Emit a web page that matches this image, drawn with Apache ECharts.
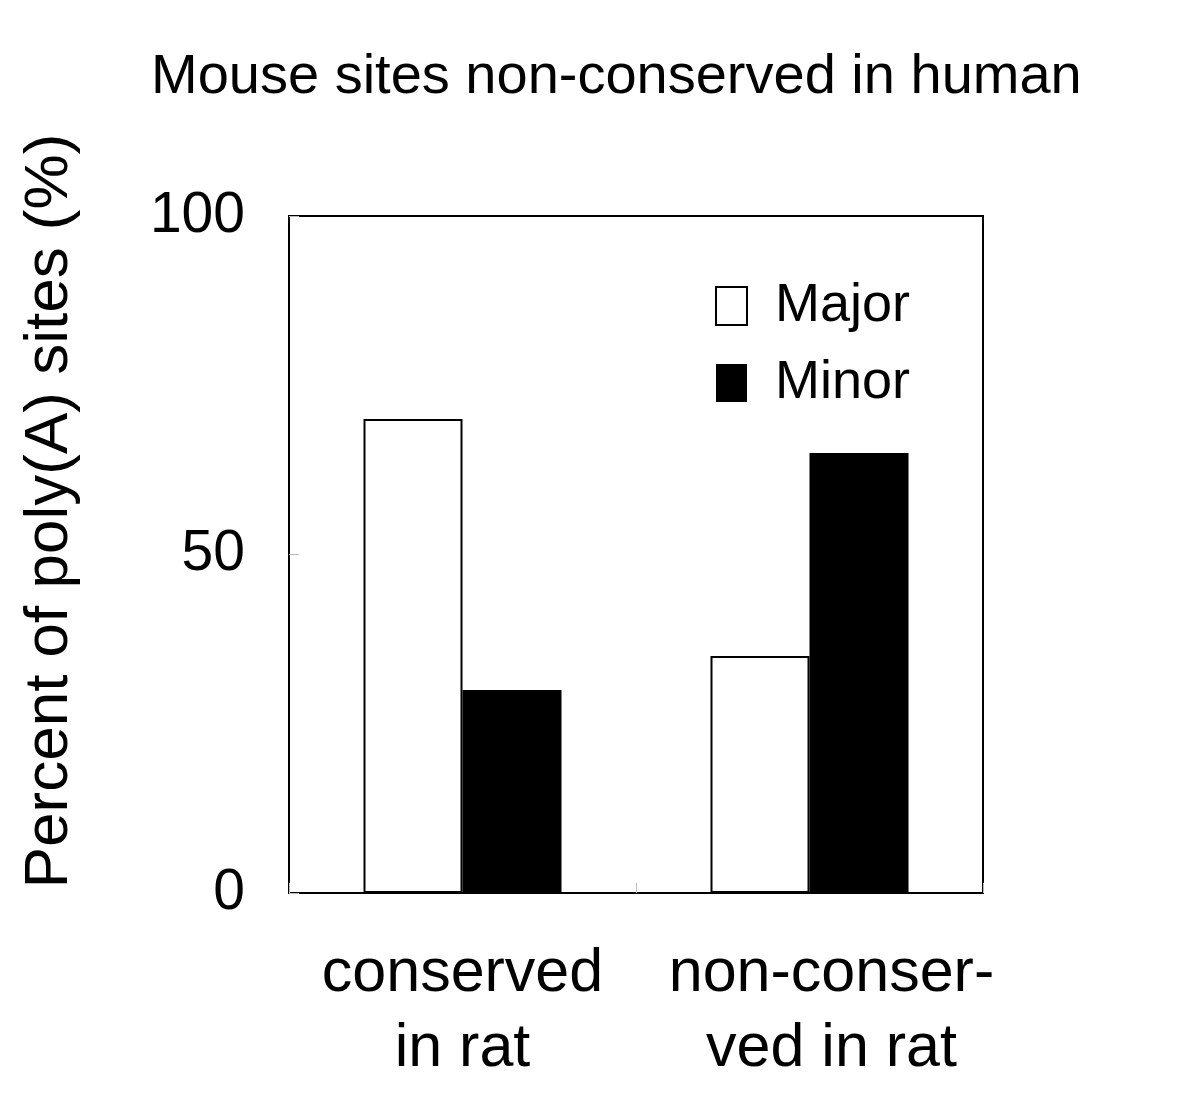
<!DOCTYPE html>
<html>
<head>
<meta charset="utf-8">
<script src="https://cdn.jsdelivr.net/npm/echarts@6/dist/echarts.min.js"></script>
<style>
  html, body { margin: 0; padding: 0; background: #fff; }
  #chart { width: 1200px; height: 1106px; }
</style>
</head>
<body>
<div id="chart"></div>
<script>
const categories = ['conserved\nin rat', 'non-conser-\nved in rat']
const majorValues = [70, 35]
const minorValues = [30, 65]
const yTicks = [0, 50, 100]

const myChart = echarts.init(document.getElementById('chart'))
const font = 'Liberation Sans, Arial, sans-serif'

const option = {
  backgroundColor: '#fff',
  animation: false,
  title: {
    text: 'Mouse sites non-conserved in human',
    left: 146,
    top: 45,
    textStyle: { fontFamily: font, fontSize: 56, fontWeight: 'normal', color: '#000' },
  },
  grid: {
    left: 289,
    right: 217,
    top: 216,
    bottom: 213,
    show: true,
    borderColor: '#000',
    borderWidth: 2,
  },
  legend: {
    orient: 'vertical',
    left: 710,
    top: 274,
    itemWidth: 31,
    itemHeight: 38,
    itemGap: 23,
    selectedMode: false,
    textStyle: { fontFamily: font, fontSize: 54, color: '#000', padding: [0, 0, 0, 23] },
    data: [
      { name: 'Major', icon: 'rect', itemStyle: { color: '#fff', borderColor: '#000', borderWidth: 2 } },
      { name: 'Minor', icon: 'rect', itemStyle: { color: '#000' } },
    ],
  },
  xAxis: {
    type: 'category',
    data: categories.map((c, i) => ({
      value: c,
      textStyle: i === 1 ? { padding: [0, 0, 0, 44] } : {},
    })),
    axisLine: { show: true, lineStyle: { color: '#000', width: 2 } },
    axisTick: { show: true, inside: true, length: 10, lineStyle: { color: '#bbb' } },
    axisLabel: {
      interval: 0,
      hideOverlap: false,
      fontFamily: font,
      fontSize: 61,
      color: '#000',
      lineHeight: 75,
      margin: 44,
    },
  },
  yAxis: {
    type: 'value',
    min: yTicks[0],
    max: yTicks[yTicks.length - 1],
    interval: 50,
    splitLine: { show: false },
    axisLine: { show: true, lineStyle: { color: '#000', width: 2 } },
    axisTick: { show: true, inside: true, length: 10, lineStyle: { color: '#bbb' } },
    axisLabel: {
      fontFamily: font,
      fontSize: 57,
      color: '#000',
      margin: 44,
    },
  },
  graphic: [
    {
      type: 'text',
      x: 50,
      y: 511,
      rotation: Math.PI / 2,
      style: {
        text: 'Percent of poly(A) sites (%)',
        fontFamily: font,
        fontSize: 62,
        fill: '#000',
        align: 'center',
        verticalAlign: 'middle',
      },
    },
  ],
  series: [
    {
      name: 'Major',
      type: 'bar',
      data: majorValues,
      barWidth: 99,
      barGap: 0,
      itemStyle: { color: '#fff', borderColor: '#000', borderWidth: 2 },
    },
    {
      name: 'Minor',
      type: 'bar',
      data: minorValues,
      barWidth: 99,
      barGap: 0,
      itemStyle: { color: '#000' },
    },
  ],
}

myChart.setOption(option)
</script>
</body>
</html>
